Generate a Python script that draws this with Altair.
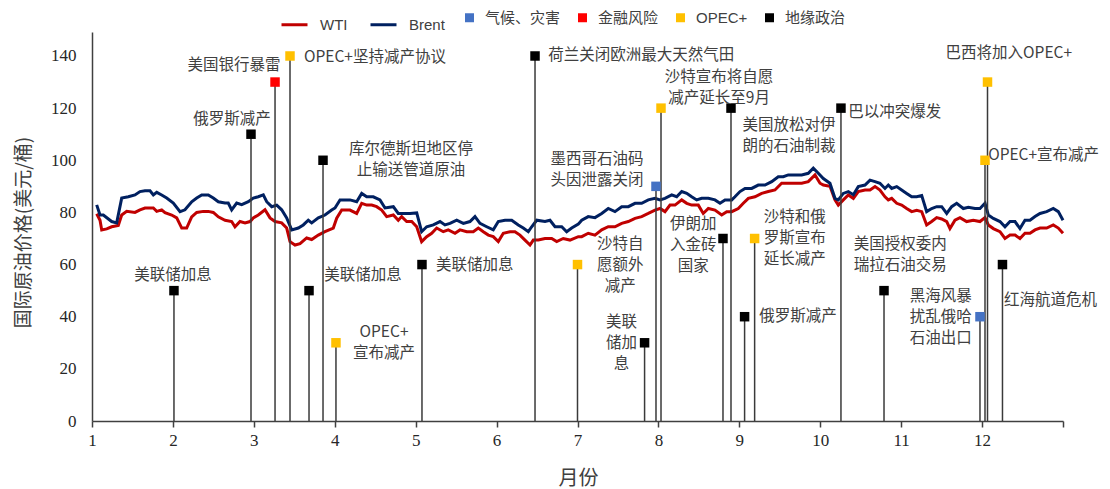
import altair as alt
import pandas as pd

# ---------------- data ----------------
brent = [
    (1.058, 82.9), (1.099, 79), (1.140, 79), (1.243, 76.5), (1.305, 76), (1.367, 85.5), (1.449, 86),
    (1.531, 86.7), (1.593, 88), (1.655, 88.3), (1.717, 88.3), (1.758, 86.7), (1.800, 87.7), (1.861, 86.7),
    (1.923, 85.5), (2.005, 83.6), (2.088, 80.3), (2.149, 81), (2.232, 84.1), (2.294, 85.5), (2.356, 86.7),
    (2.437, 86.7), (2.499, 85.5), (2.561, 84.1), (2.644, 83.6), (2.684, 83.6), (2.726, 81), (2.788, 83.6),
    (2.850, 83), (2.932, 84.1), (2.993, 85.5), (3.055, 86), (3.117, 86.7), (3.159, 84.1), (3.221, 82.2),
    (3.283, 82.8), (3.344, 81), (3.406, 77.9), (3.468, 73.3), (3.550, 74), (3.611, 75.2), (3.673, 77),
    (3.715, 76), (3.797, 77.9), (3.879, 79), (3.962, 80.9), (4.003, 81.7), (4.065, 84.8), (4.188, 84.8),
    (4.271, 84.1), (4.333, 87.3), (4.395, 86), (4.476, 86), (4.559, 84.8), (4.621, 81.7), (4.724, 82.2),
    (4.785, 79.6), (4.930, 79.6), (5.013, 79.8), (5.074, 72.6), (5.136, 74.5), (5.218, 75.2), (5.301, 76.5),
    (5.362, 75.2), (5.424, 75.8), (5.507, 77), (5.589, 75.8), (5.671, 76.5), (5.733, 78.4), (5.795, 75.8),
    (5.878, 74.5), (5.959, 73.3), (6.021, 76.5), (6.104, 77), (6.187, 77), (6.268, 75.2), (6.330, 74),
    (6.392, 72.6), (6.434, 74.5), (6.496, 77), (6.598, 76.5), (6.660, 77), (6.722, 74.5), (6.805, 74.5),
    (6.866, 72.6), (6.928, 74), (7.010, 75.5), (7.052, 77), (7.133, 78.4), (7.216, 78), (7.299, 79.6),
    (7.380, 81.5), (7.463, 80.3), (7.546, 82.2), (7.628, 82.2), (7.711, 83.5), (7.793, 83.5), (7.875, 84.8),
    (7.958, 85.4), (8.020, 84.8), (8.081, 85.4), (8.164, 86.7), (8.226, 86), (8.288, 88), (8.350, 87.3),
    (8.411, 86), (8.473, 84.8), (8.535, 85.4), (8.617, 85.4), (8.699, 84.8), (8.761, 83.5), (8.823, 84.8),
    (8.906, 84.8), (8.946, 86), (9.008, 88), (9.070, 89.2), (9.153, 89.2), (9.234, 90.5), (9.317, 90.5),
    (9.400, 91.8), (9.481, 93.7), (9.543, 93.7), (9.605, 94.4), (9.688, 94.4), (9.771, 94.4), (9.852, 95),
    (9.914, 97), (9.976, 95), (10.038, 93), (10.120, 91.2), (10.182, 85.4), (10.223, 84.8), (10.285, 87.3),
    (10.347, 88), (10.409, 86.8), (10.470, 89.9), (10.553, 90.5), (10.615, 92.4), (10.677, 91.8),
    (10.738, 91.2), (10.800, 89.2), (10.841, 90.5), (10.883, 89.2), (10.945, 89.9), (11.006, 88.6),
    (11.068, 87.3), (11.130, 86), (11.192, 86), (11.254, 86.5), (11.315, 80.3), (11.377, 81.5),
    (11.439, 82.2), (11.501, 82.2), (11.563, 79.6), (11.624, 82.2), (11.686, 83.5), (11.768, 81.5),
    (11.830, 82), (11.912, 81.5), (11.974, 81.5), (12.036, 83.5), (12.077, 79), (12.139, 77.7),
    (12.221, 76.5), (12.283, 74.5), (12.345, 76.5), (12.407, 76.5), (12.468, 73.8), (12.530, 77),
    (12.592, 77), (12.654, 78.4), (12.716, 79.6), (12.798, 80.3), (12.880, 81.5), (12.942, 80.3), (13.0, 77),
]

wti = [
    (1.058, 79.5), (1.099, 77), (1.120, 73.3), (1.182, 73.7), (1.243, 74.5), (1.325, 75), (1.367, 79), (1.429, 80.4),
    (1.531, 80), (1.593, 81), (1.655, 81.7), (1.758, 81.7), (1.800, 80.4), (1.861, 81), (1.902, 79.9),
    (1.985, 79), (2.047, 77.9), (2.109, 74), (2.170, 74), (2.232, 78.3), (2.294, 80), (2.375, 80.4),
    (2.437, 80.4), (2.499, 80), (2.561, 78.3), (2.644, 77), (2.726, 76.5), (2.767, 74.5), (2.829, 76.5),
    (2.891, 76), (2.953, 76.5), (2.993, 77.9), (3.055, 79), (3.138, 81), (3.200, 77.9), (3.262, 76.5),
    (3.344, 76), (3.406, 74), (3.447, 68.8), (3.509, 67.5), (3.571, 68), (3.653, 70.2), (3.715, 69.6),
    (3.797, 71.3), (3.879, 72.6), (3.982, 74), (4.024, 77.8), (4.086, 80.9), (4.188, 80.9), (4.271, 79.6),
    (4.333, 83.5), (4.395, 82.8), (4.457, 82.8), (4.518, 82.2), (4.580, 80.9), (4.642, 78.4), (4.724, 79),
    (4.785, 77), (4.827, 78.4), (4.889, 76.5), (4.951, 76.5), (5.013, 74.5), (5.074, 68.8), (5.136, 70.7),
    (5.198, 72), (5.260, 74), (5.341, 72.6), (5.403, 73.3), (5.486, 72), (5.548, 73.3), (5.631, 72.6),
    (5.712, 72.6), (5.774, 74), (5.836, 72.6), (5.898, 71.3), (5.959, 70.7), (6.021, 68.8), (6.083, 72),
    (6.166, 72.6), (6.227, 72.6), (6.289, 71.3), (6.351, 69.4), (6.413, 67.5), (6.454, 69.4), (6.516, 69.4),
    (6.598, 70), (6.681, 70), (6.743, 68.8), (6.824, 70), (6.907, 69.4), (7.010, 70.7), (7.052, 70.7),
    (7.133, 72), (7.216, 71.3), (7.299, 73.3), (7.380, 74.5), (7.463, 74.5), (7.546, 75.8), (7.628, 76.5),
    (7.711, 77.7), (7.793, 78.4), (7.875, 79.6), (7.958, 80.9), (8.020, 81.5), (8.081, 80.3), (8.143, 82.8),
    (8.205, 82.8), (8.288, 84.8), (8.350, 83.5), (8.411, 82.8), (8.493, 82.8), (8.554, 79.6), (8.617, 81.5),
    (8.699, 80.9), (8.782, 79), (8.844, 80.3), (8.906, 80.3), (8.987, 81.5), (9.049, 83.5), (9.111, 85.4),
    (9.193, 86), (9.276, 87.3), (9.358, 88), (9.440, 88.6), (9.523, 91.2), (9.605, 91.2), (9.688, 91.2),
    (9.771, 91.2), (9.852, 91.8), (9.935, 94.4), (9.997, 91.2), (10.038, 90.5), (10.120, 90),
    (10.182, 84.8), (10.223, 82.8), (10.285, 84.8), (10.347, 86.7), (10.409, 85.4), (10.470, 88),
    (10.553, 88.6), (10.615, 88.6), (10.677, 89.9), (10.738, 88.6), (10.800, 86), (10.841, 84.8),
    (10.883, 85.4), (10.945, 83.5), (11.006, 82.8), (11.068, 81.5), (11.130, 80.3), (11.192, 80.8),
    (11.254, 80.3), (11.315, 75.2), (11.377, 76.5), (11.439, 78), (11.501, 77.5), (11.563, 76.5),
    (11.603, 73.8), (11.665, 77), (11.727, 78), (11.809, 76.5), (11.891, 77), (11.974, 76.5), (12.036, 78),
    (12.077, 75.2), (12.139, 73.8), (12.221, 72.6), (12.283, 70), (12.345, 71.3), (12.407, 71.3),
    (12.468, 70), (12.530, 72), (12.592, 72), (12.654, 73.3), (12.716, 74), (12.798, 74), (12.880, 75.2),
    (12.942, 74), (13.0, 72),
]

series_names = ["WTI", "Brent"]
series_colors = ["#C00000", "#002060"]

event_types = ["气候、灾害", "金融风险", "OPEC+", "地缘政治"]
event_colors = ["#4472C4", "#FF0000", "#FFC000", "#000000"]

event_month = [2.013, 2.965, 3.262, 3.447, 3.682, 3.855, 4.015, 5.078, 6.475, 7.000, 7.829, 7.970,
               8.032, 8.798, 8.897, 9.065, 9.189, 10.256, 10.788, 11.974, 12.036, 12.067, 12.252]
event_value = [50, 110, 130, 140, 50, 100, 30, 60, 140, 60, 30, 90,
               120, 70, 120, 40, 70, 120, 50, 40, 100, 130, 60]
event_type = ["地缘政治", "地缘政治", "金融风险", "OPEC+", "地缘政治", "地缘政治", "OPEC+", "地缘政治",
              "地缘政治", "OPEC+", "地缘政治", "气候、灾害", "OPEC+", "地缘政治", "地缘政治", "地缘政治",
              "OPEC+", "地缘政治", "地缘政治", "气候、灾害", "OPEC+", "OPEC+", "地缘政治"]

label_text = [
    "美联储加息", "俄罗斯减产", "美国银行暴雷", "OPEC+坚持减产协议", "库尔德斯坦地区停\n止输送管道原油",
    "美联储加息", "OPEC+\n宣布减产", "美联储加息", "荷兰关闭欧洲最大天然气田", "沙特自\n愿额外\n减产",
    "美联\n储加\n息", "墨西哥石油码\n头因泄露关闭", "沙特宣布将自愿\n减产延长至9月", "伊朗加\n入金砖\n国家",
    "美国放松对伊\n朗的石油制裁", "俄罗斯减产", "沙特和俄\n罗斯宣布\n延长减产", "巴以冲突爆发",
    "美国授权委内\n瑞拉石油交易", "黑海风暴\n扰乱俄哈\n石油出口", "OPEC+宣布减产", "巴西将加入OPEC+",
    "红海航道危机",
]
# anchor of each label = centre of its first line
label_month = [2.0, 2.73, 2.755, 3.62, 4.943, 4.35, 4.609, 5.25, 6.64, 7.527, 7.544, 7.24, 8.75, 8.43,
               9.615, 9.245, 9.685, 10.345, 10.99, 11.49, 12.075, 12.33, 12.27]
label_value = [56, 116, 136.6, 139.7, 104.5, 56, 34, 59.8, 140.4, 68, 38, 100.5, 132, 75.5,
               113.5, 40.3, 78.3, 118.6, 68, 48, 102, 141, 46.4]
label_align = ["center", "center", "center", "left", "center", "center", "center", "left", "left",
               "center", "center", "center", "center", "center", "center", "left", "center", "left",
               "center", "center", "left", "center", "left"]

# ---------------- tables ----------------
lines_df = pd.DataFrame(
    [{"month": m, "price": v, "series": "WTI"} for m, v in wti]
    + [{"month": m, "price": v, "series": "Brent"} for m, v in brent]
)
events_df = pd.DataFrame({"month": event_month, "value": event_value, "type": event_type})
labels_df = pd.DataFrame({"month": label_month, "value": label_value, "text": label_text, "align": label_align})

CJK = "Noto Sans CJK SC"
SERIF = "Liberation Serif, DejaVu Serif, serif"
GREY = "#404040"

x_scale = alt.Scale(domain=[1, 13], nice=False, zero=False)
y_scale = alt.Scale(domain=[0, 149.2], nice=False)

x_axis = alt.Axis(
    values=list(range(1, 14)), format="d", labelExpr="datum.value == 13 ? '' : datum.label",
    title="月份", grid=False, ticks=True, tickSize=6, tickColor=GREY, tickWidth=1.5,
    domainColor=GREY, domainWidth=1.5, labelFont=SERIF, labelFontSize=17, labelColor="#262626",
    labelPadding=5, labelFlush=False, labelOverlap=False,
    titleFont=CJK, titleFontSize=20, titleFontWeight="normal", titleColor=GREY,
    titleX=486, titleY=57, titleBaseline="middle",
)
y_axis = alt.Axis(
    values=[0, 20, 40, 60, 80, 100, 120, 140], format="d", title="国际原油价格(美元/桶)", grid=False,
    ticks=False, domainColor=GREY, domainWidth=1.5, labelFont=SERIF, labelFontSize=17,
    labelColor="#262626", labelPadding=16, labelFlush=False, labelOverlap=False,
    titleFont=CJK, titleFontSize=19, titleFontWeight="normal", titleColor=GREY,
    titleX=-69, titleY=200, titleAngle=270, titleBaseline="middle",
)

lines = alt.Chart(lines_df).mark_line(strokeWidth=3, interpolate="linear").encode(
    x=alt.X("month:Q", scale=x_scale, axis=x_axis),
    y=alt.Y("price:Q", scale=y_scale, axis=y_axis),
    stroke=alt.Stroke(
        "series:N",
        scale=alt.Scale(domain=series_names, range=series_colors),
        legend=alt.Legend(
            title=None, orient="none", legendX=188, legendY=-22, direction="horizontal",
            symbolType="stroke", symbolStrokeWidth=3, symbolSize=676, labelFont="Liberation Sans",
            labelFontSize=15, labelColor=GREY, labelOffset=11, columnPadding=16, padding=0,
        ),
    ),
    detail="series:N",
)

stems = alt.Chart(events_df).mark_rule(color="#3a3a3a", strokeWidth=1.5).encode(
    x=alt.X("month:Q", scale=x_scale),
    y=alt.Y("value:Q", scale=y_scale),
    y2=alt.datum(0),
)

markers = alt.Chart(events_df).mark_square(size=90, filled=True, opacity=1).encode(
    x=alt.X("month:Q", scale=x_scale),
    y=alt.Y("value:Q", scale=y_scale),
    fill=alt.Fill(
        "type:N",
        scale=alt.Scale(domain=event_types, range=event_colors),
        legend=alt.Legend(
            title=None, orient="none", legendX=370, legendY=-22, direction="horizontal",
            symbolType="square", symbolSize=81, symbolStrokeWidth=0, labelFont="Liberation Sans, " + CJK,
            labelFontSize=15, labelColor=GREY, labelOffset=8, columnPadding=14, padding=0,
        ),
    ),
)


def text_layer(align):
    return alt.Chart(labels_df).transform_filter(alt.datum.align == align).mark_text(
        align=align, baseline="middle", lineBreak="\n", font=CJK, fontSize=15.5,
        color=GREY, lineHeight=21,
    ).encode(
        x=alt.X("month:Q", scale=x_scale),
        y=alt.Y("value:Q", scale=y_scale),
        text="text:N",
    )


chart = alt.layer(lines, stems, markers, text_layer("center"), text_layer("left")).properties(
    width=971, height=389,
    padding={"left": 92, "top": 32, "right": 47, "bottom": 68},
    autosize=alt.AutoSizeParams(type="none"),
    background="white",
).configure_view(stroke=None)

chart.save("out.html", embed_options={"renderer": "svg", "actions": False})
